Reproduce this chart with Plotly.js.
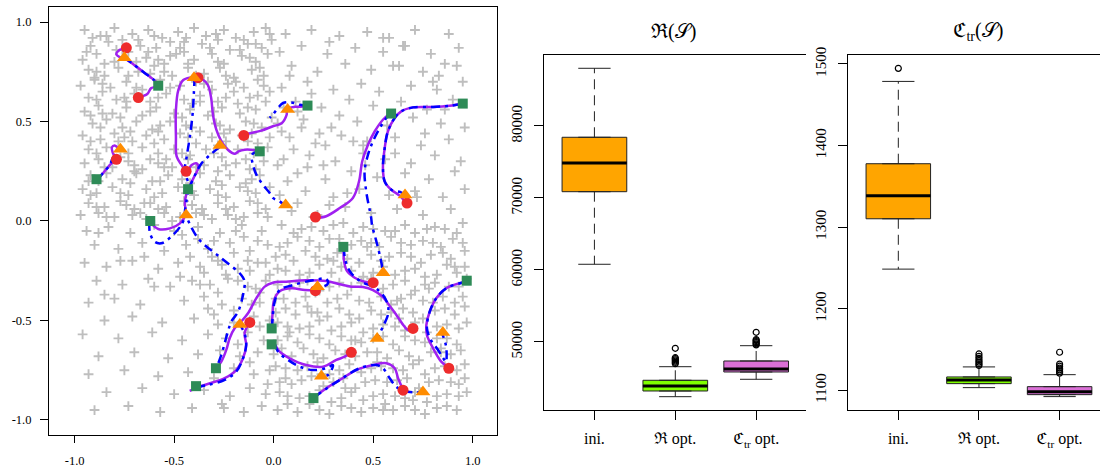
<!DOCTYPE html>
<html><head><meta charset="utf-8">
<script src="https://cdn.plot.ly/plotly-3.0.1.min.js"></script>
<style>html,body{margin:0;padding:0;background:#fff}#chart{width:1100px;height:470px}</style>
</head><body><div id="chart"></div>
<script>
// ---------- left panel: background sample points (coordinates in hundredths) ----------
const crossTL = [[-95,96],[-87,93],[-80,97],[-71,94],[-63,96],[-56,92],[-48,95],[-40,97],[-34,93],[-25,96],[-19,92],[-10,95],[-4,97],
[-92,88],[-83,90],[-76,86],[-68,91],[-59,87],[-52,90],[-45,85],[-36,89],[-28,91],[-22,86],[-13,89],[-6,87],[-1,91],
[-96,81],[-89,84],[-80,80],[-73,85],[-64,82],[-55,79],[-49,84],[-40,81],[-31,84],[-25,79],[-16,83],[-9,80],[-3,84],
[-93,76],[-85,73],[-78,77],[-68,75],[-60,78],[-51,73],[-43,77],[-35,74],[-27,77],[-20,72],[-11,76],[-5,73],
[-97,68],[-90,71],[-82,67],[-74,70],[-66,66],[-57,71],[-47,68],[-39,70],[-31,66],[-23,69],[-15,67],[-8,71],[-2,65],
[-93,62],[-86,65],[-79,61],[-70,64],[-62,60],[-54,64],[-45,61],[-37,63],[-28,60],[-20,65],[-12,62],[-4,60],
[-95,55],[-88,58],[-81,54],[-74,57],[-66,53],[-59,57],[-50,54],[-42,56],[-33,53],[-26,57],[-17,54],[-9,56],[-1,52],
[-91,49],[-84,51],[-76,47],[-69,50],[-61,46],[-52,50],[-44,48],[-37,45],[-29,49],[-22,46],[-14,50],[-6,47],
[-96,43],[-87,41],[-80,44],[-71,40],[-64,43],[-55,41],[-47,44],[-39,39],[-31,42],[-24,40],[-16,43],[-8,39],[-2,42],
[-93,36],[-84,37],[-73,34],[-66,37],[-58,34],[-50,36],[-42,33],[-34,36],[-26,32],[-18,36],[-10,34],[-3,37],
[-95,29],[-88,31],[-81,27],[-73,30],[-66,26],[-58,29],[-51,27],[-43,31],[-35,28],[-28,25],[-19,29],[-12,26],[-5,30],
[-92,23],[-84,24],[-76,21],[-69,24],[-61,20],[-53,23],[-46,21],[-37,24],[-29,20],[-22,23],[-14,19],[-7,23],
[-96,16],[-89,14],[-81,17],[-73,13],[-64,16],[-56,14],[-48,17],[-40,13],[-32,16],[-24,12],[-17,17],[-9,14],[-2,17],
[-93,9],[-85,7],[-77,10],[-70,6],[-62,9],[-54,7],[-45,10],[-36,6],[-28,9],[-20,7],[-12,10],[-4,6],
[-97,3],[-88,4],[-80,2],[-71,3],[-64,1],[-55,4],[-47,2],[-39,4],[-31,1],[-23,3],[-15,2],[-8,4],
[-84,93],[-67,88],[-52,83],[-89,75],[-75,62],[-58,45],[-33,70],[-18,59],[-70,28],[-41,15],[-86,54],[-62,74],[-45,90],[-27,48],[-54,31],[-11,44],[-78,40],[-37,60],[-93,20],[-65,9],
[-91,92],[-76,91],[-60,93],[-44,92],[-29,94],[-15,91],[-2,94],
[-94,85],[-79,86],[-63,85],[-47,87],[-32,87],[-17,86],[-9,89],
[-85,79],[-69,80],[-58,81],[-43,79],[-28,80],[-12,82],
[-90,72],[-73,73],[-55,75],[-39,73],[-24,73],[-7,77],
[-86,69],[-69,67],[-52,67],[-35,69],[-19,70],[-5,68],
[-89,61],[-74,60],[-58,62],[-41,59],[-24,62],[-8,63],
[-92,53],[-77,52],[-62,55],[-46,52],[-30,55],[-13,57],
[-87,47],[-72,45],[-57,48],[-41,47],[-25,44],[-10,49],
[-92,40],[-75,42],[-60,39],[-43,42],[-28,38],[-13,40],
[-89,34],[-77,32],[-62,31],[-46,34],[-30,34],[-14,31],
[-85,27],[-70,25],[-55,27],[-39,27],[-24,28],[-9,26],
[-88,20],[-72,19],[-57,20],[-42,19],[-26,18],[-11,21],
[-92,13],[-77,14],[-60,12],[-44,14],[-28,13],[-13,15],
[-89,7],[-74,8],[-58,6],[-41,8],[-24,6],[-8,9],
[-84,2],[-67,4],[-51,0],[-35,3],[-19,1],[-3,2]];
const crossTR = [[6,94],[19,96],[33,93],[47,95],[58,92],[71,96],[88,94],
[3,85],[14,88],[27,84],[41,87],[55,85],[66,88],[79,84],[93,87],
[9,78],[22,75],[36,79],[49,76],[63,78],[75,75],[86,79],
[4,67],[17,70],[30,66],[44,69],[53,65],[69,68],[82,66],[95,70],
[11,60],[24,57],[38,61],[50,58],[64,60],[77,56],[90,61],
[2,49],[15,51],[29,47],[42,50],[57,48],[70,52],[84,49],[96,47],
[8,42],[21,39],[34,43],[47,40],[61,42],[74,38],[88,41],
[5,31],[18,33],[31,30],[45,34],[56,31],[69,29],[81,33],[94,30],
[12,24],[26,21],[39,25],[52,22],[66,24],[78,21],[91,25],
[3,13],[16,15],[30,12],[43,16],[58,13],[71,15],[85,12],[96,16],
[9,5],[22,3],[36,7],[49,4],[62,6],[75,3],[89,6],
[80,70],[83,73],[40,40],[45,38],[60,78],[25,28],[72,12],[12,55],
[4,45],[10,36],[17,27],[23,44],[28,8],[7,20],[20,2],[14,47],[26,38],[2,28],
[5,57],[19,64],[8,73],[33,53],[46,28],[61,34],[76,44],[92,78],[55,92],[37,14],[65,88],[86,56],[28,90],[12,9]];
const crossBL = [[-94,-5],[-83,-3],[-72,-6],[-60,-2],[-50,-5],[-38,-3],[-27,-6],[-16,-2],[-6,-5],
[-90,-12],[-78,-14],[-66,-11],[-55,-15],[-44,-12],[-33,-14],[-22,-11],[-12,-15],[-3,-12],
[-95,-21],[-84,-23],[-71,-20],[-58,-24],[-48,-21],[-37,-23],[-28,-20],[-18,-24],[-8,-21],
[-89,-30],[-76,-32],[-63,-29],[-52,-33],[-41,-30],[-32,-32],[-23,-29],[-13,-33],[-4,-30],
[-93,-41],[-80,-39],[-67,-42],[-45,-40],[-35,-38],[-26,-42],[-16,-39],[-7,-41],
[-85,-50],[-71,-48],[-56,-51],[-40,-49],[-30,-47],[-20,-51],[-10,-48],[-2,-50],
[-96,-57],[-78,-59],[-61,-56],[-46,-60],[-33,-57],[-24,-59],[-13,-56],[-5,-60],
[-88,-68],[-70,-66],[-53,-69],[-38,-67],[-27,-65],[-17,-68],[-8,-66],
[-93,-77],[-75,-75],[-58,-78],[-43,-76],[-30,-79],[-20,-74],[-10,-77],[-2,-75],
[-84,-86],[-66,-84],[-50,-87],[-35,-85],[-22,-88],[-12,-84],[-4,-87],
[-90,-95],[-73,-93],[-57,-96],[-41,-94],[-26,-92],[-15,-96],[-6,-93],
[-38,-9],[-31,-18],[-24,-27],[-15,-8],[-9,-34],[-20,-16],[-35,-26],[-4,-21],[-28,-36],[-12,-25],
[-46,-7],[-30,-10],[-19,-5],[-8,-10],[-42,-18],[-26,-22],[-13,-20],[-2,-27],[-47,-28],[-37,-32],[-18,-30],[-7,-36],[-33,-44],[-20,-45],[-11,-42],[-88,-6],[-77,-20],[-65,-18],[-60,-33],[-85,-37],[-7,-53],[-18,-62],[-12,-71],[-28,-52],[-3,-82],[-25,-94]];
const crossBR = [[4,-2],[10,-6],[19,-3],[25,-5],[35,-1],[40,-6],[50,-4],[56,-5],[66,-2],[71,-6],[81,-3],[86,-4],[95,-1],
[7,-11],[12,-8],[23,-13],[28,-9],[39,-12],[44,-10],[53,-13],[59,-8],[69,-12],[75,-10],[84,-13],[90,-9],
[1,-18],[10,-20],[16,-15],[27,-19],[32,-16],[43,-21],[49,-17],[58,-18],[64,-16],[74,-21],[79,-17],[89,-19],[96,-15],
[6,-25],[13,-27],[23,-22],[29,-26],[39,-25],[45,-28],[55,-23],[61,-27],[71,-24],[76,-28],[87,-22],[92,-26],
[2,-32],[8,-33],[17,-30],[23,-35],[33,-31],[39,-33],[49,-29],[55,-34],[66,-30],[71,-35],[81,-31],[88,-33],[97,-29],
[5,-39],[11,-41],[21,-36],[27,-41],[37,-37],[43,-40],[54,-38],[59,-42],[69,-37],[75,-40],[85,-38],[91,-41],
[1,-46],[11,-47],[17,-43],[27,-48],[33,-44],[43,-49],[49,-45],[59,-46],[65,-44],[75,-49],[81,-45],[91,-47],[96,-43],
[7,-53],[13,-54],[23,-50],[29,-55],[39,-51],[45,-56],[55,-52],[61,-53],[71,-51],[77,-56],[87,-52],[93,-54],
[2,-60],[12,-61],[18,-57],[28,-62],[34,-58],[44,-61],[50,-59],[60,-62],[66,-58],[76,-61],[82,-59],[92,-62],
[0,-67],[9,-68],[15,-64],[25,-69],[31,-65],[41,-68],[47,-66],[57,-69],[63,-65],[73,-70],[79,-66],[89,-67],[94,-65],
[6,-74],[12,-75],[22,-71],[28,-77],[38,-72],[44,-76],[54,-73],[60,-74],[70,-72],[76,-77],[86,-73],[92,-75],
[3,-81],[9,-82],[19,-78],[25,-83],[35,-79],[41,-84],[51,-80],[57,-81],[67,-79],[73,-84],[83,-80],[89,-81],[96,-79],
[7,-88],[13,-89],[23,-85],[29,-91],[39,-86],[45,-90],[55,-87],[61,-88],[71,-86],[77,-91],[87,-87],[93,-88],
[2,-95],[12,-96],[18,-92],[28,-97],[34,-93],[44,-96],[50,-94],[60,-95],[66,-93],[76,-97],[82,-94],[92,-95],
[47,-13],[62,-40],[84,-64],[36,-84],[19,-46],[52,-71],[70,-90],[91,-23],[8,-56],[30,-20],[63,-49],[78,-34],[41,-60],[56,-92],[24,-77],
[14,-4],[30,-2],[45,-3],[61,-5],[77,-4],[92,-6],
[3,-13],[18,-10],[33,-9],[49,-11],[64,-11],[80,-11],[95,-11],
[6,-17],[21,-18],[37,-19],[54,-20],[69,-18],[85,-16],
[2,-24],[18,-26],[34,-23],[50,-26],[66,-25],[82,-27],[96,-23],
[13,-31],[28,-33],[44,-31],[60,-32],[76,-32],[93,-33],
[1,-39],[16,-38],[32,-39],[48,-41],[64,-39],[80,-41],[95,-38],
[6,-44],[22,-46],[38,-47],[54,-47],[70,-46],[86,-44],
[2,-51],[18,-53],[34,-53],[50,-54],[66,-55],[82,-53],[97,-51],
[7,-58],[23,-59],[39,-60],[55,-58],[71,-60],[87,-59],
[4,-64],[20,-67],[36,-67],[52,-66],[68,-68],[84,-66],
[1,-73],[17,-73],[33,-75],[49,-74],[65,-75],[81,-74],[96,-72],
[6,-79],[14,-80],[30,-81],[46,-81],[62,-80],[78,-81],[93,-82],
[3,-86],[18,-88],[34,-89],[50,-88],[66,-89],[82,-88],[97,-86],
[7,-92],[23,-95],[39,-94],[55,-95],[71,-95],[87,-93]];

// ---------- left panel: paths ----------
const purplePaths = [
 [[-0.744,0.869],[-0.779,0.856],[-0.791,0.839],[-0.774,0.824],[-0.752,0.819],[-0.698,0.782],[-0.648,0.744],[-0.602,0.709],[-0.576,0.680],[-0.615,0.668],[-0.635,0.638],[-0.677,0.622]],
 [[-0.38,0.715],[-0.355,0.710],[-0.33,0.682],[-0.314,0.618],[-0.305,0.534],[-0.288,0.459],[-0.263,0.401],[-0.230,0.358],[-0.196,0.338],[-0.176,0.350],[-0.146,0.358],[-0.113,0.358],[-0.069,0.353]],
 [[-0.397,0.724],[-0.454,0.709],[-0.479,0.658],[-0.491,0.558],[-0.491,0.424],[-0.487,0.323],[-0.462,0.281],[-0.437,0.248],[-0.412,0.281],[-0.387,0.290],[-0.379,0.266],[-0.395,0.231],[-0.412,0.197],[-0.426,0.164],[-0.437,0.141],[-0.446,0.089],[-0.442,0.035],[-0.471,-0.012],[-0.521,-0.037],[-0.580,-0.040],[-0.623,-0.004]],
 [[-0.146,0.434],[-0.113,0.442],[-0.062,0.454],[-0.004,0.476],[0.040,0.491],[0.065,0.533],[0.068,0.563],[0.107,0.574],[0.132,0.574],[0.172,0.579]],
 [[0.588,0.543],[0.549,0.509],[0.508,0.451],[0.474,0.383],[0.445,0.300],[0.429,0.199],[0.398,0.116],[0.332,0.065],[0.264,0.024],[0.209,0.015]],
 [[0.945,0.588],[0.884,0.579],[0.801,0.573],[0.700,0.571],[0.641,0.551],[0.608,0.518],[0.574,0.451],[0.558,0.367],[0.549,0.266],[0.558,0.199],[0.591,0.157],[0.635,0.126],[0.666,0.085]],
 [[0.352,-0.131],[0.353,-0.196],[0.368,-0.251],[0.407,-0.285],[0.457,-0.305],[0.503,-0.310]],
 [[-0.290,-0.744],[-0.263,-0.707],[-0.238,-0.648],[-0.221,-0.589],[-0.196,-0.539],[-0.166,-0.509],[-0.129,-0.464],[-0.087,-0.388],[-0.045,-0.330],[-0.004,-0.310],[0.063,-0.305],[0.164,-0.298],[0.264,-0.302],[0.332,-0.318],[0.390,-0.330],[0.449,-0.332],[0.499,-0.347],[0.549,-0.382],[0.583,-0.427],[0.620,-0.477],[0.655,-0.528],[0.675,-0.548],[0.704,-0.544]],
 [[-0.422,-0.854],[-0.347,-0.824],[-0.246,-0.790],[-0.188,-0.749],[-0.154,-0.690],[-0.138,-0.623],[-0.146,-0.564],[-0.124,-0.514]],
 [[-0.009,-0.538],[-0.006,-0.472],[0.002,-0.398],[0.032,-0.352],[0.092,-0.338],[0.157,-0.347],[0.214,-0.347]],
 [[0.005,-0.617],[0.030,-0.657],[0.080,-0.690],[0.164,-0.724],[0.248,-0.732],[0.315,-0.698],[0.357,-0.682],[0.392,-0.657]],
 [[0.203,-0.888],[0.264,-0.841],[0.332,-0.799],[0.415,-0.749],[0.499,-0.724],[0.566,-0.715],[0.608,-0.740],[0.625,-0.790],[0.653,-0.853]],
 [[0.971,-0.305],[0.935,-0.313],[0.867,-0.338],[0.817,-0.388],[0.784,-0.456],[0.767,-0.523],[0.770,-0.573],[0.801,-0.640],[0.842,-0.707],[0.879,-0.737]],
 [[-0.888,0.206],[-0.858,0.240],[-0.824,0.281],[-0.794,0.313],[-0.808,0.342],[-0.813,0.370],[-0.799,0.380],[-0.782,0.367],[-0.774,0.363]]
];
const bluePaths = [
 [[-0.752,0.823],[-0.698,0.782],[-0.648,0.744],[-0.602,0.709],[-0.576,0.680]],
 [[-0.397,0.724],[-0.401,0.642],[-0.407,0.541],[-0.421,0.424],[-0.437,0.323],[-0.446,0.256],[-0.424,0.172],[-0.427,0.161],[-0.437,0.106],[-0.446,0.039],[-0.442,0.030],[-0.380,-0.087],[-0.263,-0.187],[-0.163,-0.271],[-0.146,-0.305],[-0.154,-0.372],[-0.179,-0.456],[-0.213,-0.506],[-0.230,-0.556],[-0.263,-0.673],[-0.290,-0.744]],
 [[-0.427,0.161],[-0.395,0.231],[-0.362,0.290],[-0.320,0.332],[-0.273,0.370]],
 [[-0.623,-0.004],[-0.623,-0.054],[-0.598,-0.104],[-0.565,-0.112],[-0.515,-0.079],[-0.464,-0.020],[-0.442,0.030]],
 [[-0.069,0.353],[-0.109,0.333],[-0.104,0.283],[-0.087,0.233],[-0.054,0.182],[-0.020,0.141],[-0.004,0.116],[0.030,0.099],[0.057,0.077]],
 [[0.172,0.579],[0.131,0.584],[0.088,0.596],[0.047,0.593],[0.022,0.568],[-0.004,0.534],[-0.020,0.518]],
 [[0.588,0.543],[0.566,0.518],[0.533,0.467],[0.499,0.401],[0.474,0.333],[0.457,0.250],[0.465,0.149],[0.490,0.015],[0.494,-0.020],[0.514,-0.095],[0.533,-0.171],[0.546,-0.238],[0.546,-0.258]],
 [[0.945,0.588],[0.884,0.579],[0.801,0.573],[0.700,0.571],[0.641,0.551],[0.608,0.518],[0.574,0.451],[0.558,0.367],[0.549,0.266],[0.558,0.199],[0.591,0.157],[0.635,0.146],[0.661,0.132]],
 [[0.352,-0.131],[0.362,-0.205],[0.390,-0.263],[0.440,-0.305],[0.508,-0.335],[0.549,-0.372],[0.574,-0.422],[0.574,-0.472],[0.549,-0.531],[0.519,-0.593]],
 [[-0.390,-0.834],[-0.330,-0.824],[-0.246,-0.799],[-0.188,-0.757],[-0.154,-0.690],[-0.138,-0.623],[-0.146,-0.564],[-0.163,-0.531],[-0.166,-0.518]],
 [[-0.009,-0.538],[-0.004,-0.472],[0.005,-0.406],[0.030,-0.347],[0.097,-0.322],[0.197,-0.298],[0.263,-0.291],[0.273,-0.313],[0.243,-0.332],[0.216,-0.327]],
 [[0.005,-0.617],[0.022,-0.657],[0.072,-0.698],[0.131,-0.732],[0.197,-0.749],[0.264,-0.740],[0.298,-0.724],[0.273,-0.774],[0.236,-0.779]],
 [[0.203,-0.888],[0.231,-0.866],[0.332,-0.799],[0.432,-0.740],[0.516,-0.724],[0.549,-0.740],[0.583,-0.790],[0.616,-0.833],[0.653,-0.853],[0.700,-0.861],[0.745,-0.858]],
 [[0.971,-0.305],[0.935,-0.313],[0.867,-0.338],[0.817,-0.388],[0.784,-0.456],[0.770,-0.538],[0.790,-0.598],[0.826,-0.648],[0.851,-0.688],[0.866,-0.709],[0.869,-0.688],[0.866,-0.628],[0.846,-0.564]],
 [[-0.888,0.206],[-0.858,0.240],[-0.824,0.281],[-0.808,0.317],[-0.794,0.333],[-0.774,0.363]]
];

// ---------- left panel: markers ----------
const squareX = [-0.89,-0.58,-0.43,-0.62,-0.07,0.17,0.59,0.95,0.35,0.97,-0.01,-0.01,-0.29,-0.39,0.20];
const squareY = [0.21,0.68,0.16,0.00,0.35,0.58,0.54,0.59,-0.13,-0.30,-0.54,-0.62,-0.74,-0.83,-0.89];
const circleX = [-0.74,-0.68,-0.38,-0.79,-0.15,-0.44,0.67,0.21,-0.12,0.50,0.21,0.70,0.39,0.88,0.65];
const circleY = [0.87,0.62,0.72,0.31,0.43,0.25,0.09,0.02,-0.51,-0.31,-0.35,-0.54,-0.66,-0.74,-0.85];
const triX = [-0.75,-0.40,-0.77,-0.27,-0.44,0.07,0.66,0.06,-0.17,0.55,0.22,0.85,0.52,0.24,0.75];
const triY = [0.82,0.72,0.36,0.38,0.03,0.56,0.13,0.08,-0.52,-0.26,-0.33,-0.56,-0.59,-0.78,-0.86];

// ---------- box plots ----------
const boxPos = [1, 2, 3];
const boxLabels = ['ini.', 'ℜ opt.', 'ℭ<sub>tr</sub> opt.'];
const boxColors = ['#FFA500', '#7FFF00', '#DA70D6'];
// ℜ(S)
const rLower = [60792, 42403, 44819];
const rQ1 = [70875, 43194, 45833];
const rMedian = [74861, 43889, 46250];
const rQ3 = [78431, 44681, 47361];
const rUpper = [88014, 46569, 49486];
const rOutX = [2, 2, 2, 2, 2, 2, 2, 3, 3, 3, 3, 3, 3, 3];
const rOutY = [47000, 47180, 47350, 47520, 47680, 47820, 49125, 49600, 49750, 49900, 50050, 50200, 50330, 51347];
// ℭtr(S)
const cLower = [1248.5, 1103.2, 1092.2];
const cQ1 = [1310.2, 1108.1, 1094.6];
const cMedian = [1338.4, 1112.6, 1098.3];
const cQ3 = [1377.7, 1116.3, 1104.4];
const cUpper = [1478.6, 1128.6, 1119.1];
const cOutX = [1, 2, 2, 2, 2, 2, 2, 2, 3, 3, 3, 3, 3, 3, 3];
const cOutY = [1494.6, 1130.5, 1132.5, 1134.5, 1136.5, 1139, 1141.5, 1144.5, 1121, 1123, 1125, 1127, 1129.5, 1132, 1146.6];

// ---------- build ----------
const FONT = 'Liberation Serif, DejaVu Serif, Noto Serif, serif';
const traces = [];
const allCross = crossTL.concat(crossTR, crossBL, crossBR);
traces.push({type:'scatter', mode:'markers', xaxis:'x', yaxis:'y', hoverinfo:'skip',
  x: allCross.map(p => p[0] / 100), y: allCross.map(p => p[1] / 100),
  marker:{symbol:'cross-thin', size:7, color:'#BEBEBE', line:{color:'#BEBEBE', width:1.9}}});
purplePaths.forEach(p => traces.push({type:'scatter', mode:'lines', xaxis:'x', yaxis:'y', hoverinfo:'skip',
  x: p.map(q => q[0]), y: p.map(q => q[1]), line:{color:'#A020F0', width:2.5, shape:'spline', smoothing:1}}));
bluePaths.forEach(p => traces.push({type:'scatter', mode:'lines', xaxis:'x', yaxis:'y', hoverinfo:'skip',
  x: p.map(q => q[0]), y: p.map(q => q[1]), line:{color:'#0000FF', width:2.5, dash:'9px,5px,3px,5px', shape:'spline', smoothing:1}}));
traces.push({type:'scatter', mode:'markers', xaxis:'x', yaxis:'y', x: circleX, y: circleY, hoverinfo:'skip',
  marker:{symbol:'circle', size:11, color:'#EE2C2C'}});
traces.push({type:'scatter', mode:'markers', xaxis:'x', yaxis:'y', x: triX, y: triY, hoverinfo:'skip',
  marker:{symbol:'triangle-up', size:13, color:'#FF8C00'}});
traces.push({type:'scatter', mode:'markers', xaxis:'x', yaxis:'y', x: squareX, y: squareY, hoverinfo:'skip',
  marker:{symbol:'square', size:10, color:'#2E8B57'}});

function addBoxes(xa, ya, lower, q1, med, q3, upper, outX, outY) {
  boxPos.forEach((c, i) => {
    traces.push({type:'box', xaxis:xa, yaxis:ya, x:[c], q1:[q1[i]], median:[med[i]], q3:[q3[i]],
      lowerfence:[q1[i]], upperfence:[q3[i]], width:0.8, fillcolor:boxColors[i],
      line:{color:'#222222', width:1}, boxpoints:false, hoverinfo:'skip'});
  });
  const wx = [], wy = [], cx = [], cy = [], mx = [], my = [];
  boxPos.forEach((c, i) => {
    wx.push(c, c, null, c, c, null); wy.push(q3[i], upper[i], null, q1[i], lower[i], null);
    cx.push(c - 0.2, c + 0.2, null, c - 0.2, c + 0.2, null); cy.push(upper[i], upper[i], null, lower[i], lower[i], null);
    mx.push(c - 0.4, c + 0.4, null); my.push(med[i], med[i], null);
  });
  traces.push({type:'scatter', mode:'lines', xaxis:xa, yaxis:ya, x:wx, y:wy, hoverinfo:'skip',
    line:{color:'#222222', width:1, dash:'10px,6px'}});
  traces.push({type:'scatter', mode:'lines', xaxis:xa, yaxis:ya, x:cx, y:cy, hoverinfo:'skip',
    line:{color:'#222222', width:1}});
  traces.push({type:'scatter', mode:'lines', xaxis:xa, yaxis:ya, x:mx, y:my, hoverinfo:'skip',
    line:{color:'#000000', width:3}});
  traces.push({type:'scatter', mode:'markers', xaxis:xa, yaxis:ya, x:outX, y:outY, hoverinfo:'skip',
    marker:{symbol:'circle-open', size:6, color:'#000000', line:{width:1.2, color:'#000000'}}});
}
addBoxes('x2', 'y2', rLower, rQ1, rMedian, rQ3, rUpper, rOutX, rOutY);
addBoxes('x3', 'y3', cLower, cQ1, cMedian, cQ3, cUpper, cOutX, cOutY);

const axBase = {showgrid:false, zeroline:false, showline:true, linecolor:'#000', linewidth:1,
  ticks:'outside', tickcolor:'#000', tickwidth:1, tickfont:{family:FONT, size:13, color:'#000'}};
const layout = {
  width:1100, height:470, margin:{l:0, r:0, t:0, b:0}, showlegend:false,
  paper_bgcolor:'#fff', plot_bgcolor:'#fff',
  xaxis: Object.assign({}, axBase, {domain:[0.0445, 0.4518], range:[-1.129, 1.122], mirror:true, ticklen:7,
    tickvals:[-1, -0.5, 0, 0.5, 1], ticktext:['-1.0', '-0.5', '0.0', '0.5', '1.0'], ticklabelstandoff:7,
    tickfont:{family:FONT, size:12.5, color:'#000'}}),
  yaxis: Object.assign({}, axBase, {domain:[0.0745, 0.9851], range:[-1.0754, 1.0754], mirror:true, ticklen:8,
    tickvals:[-1, -0.5, 0, 0.5, 1], ticktext:['-1.0', '-0.5', '0.0', '0.5', '1.0'], ticklabelstandoff:6,
    tickfont:{family:FONT, size:12.5, color:'#000'}}),
  xaxis2: Object.assign({}, axBase, {anchor:'y2', domain:[0.4948, 0.7325], range:[0.38, 3.613], mirror:true, ticklen:9,
    tickvals:boxPos, ticktext:boxLabels, tickfont:{family:FONT, size:16, color:'#000'}, ticklabelstandoff:5}),
  yaxis2: Object.assign({}, axBase, {anchor:'x2', domain:[0.1277, 0.8830], range:[40556, 89861], ticklen:9,
    tickvals:[50000, 60000, 70000, 80000], ticktext:['50000', '60000', '70000', '80000'], tickangle:-90,
    tickfont:{family:FONT, size:15, color:'#000'}, ticklabelstandoff:6}),
  xaxis3: Object.assign({}, axBase, {anchor:'y3', domain:[0.7712, 1.0], range:[0.38, 3.501], mirror:true, ticklen:9,
    tickvals:boxPos, ticktext:boxLabels, tickfont:{family:FONT, size:16, color:'#000'}, ticklabelstandoff:5}),
  yaxis3: Object.assign({}, axBase, {anchor:'x3', domain:[0.1277, 0.8830], range:[1075.8, 1511.0], ticklen:9,
    tickvals:[1100, 1200, 1300, 1400, 1500], ticktext:['1100', '1200', '1300', '1400', '1500'], tickangle:-90,
    tickfont:{family:FONT, size:15, color:'#000'}, ticklabelstandoff:6}),
  annotations: [
    {xref:'paper', yref:'paper', x:0.6121, y:0.9326, text:'ℜ(𝒮)', showarrow:false,
      font:{family:FONT, size:20, color:'#000'}, xanchor:'center', yanchor:'middle'},
    {xref:'paper', yref:'paper', x:0.8888, y:0.9326, text:'ℭ<sub>tr</sub>(𝒮)', showarrow:false,
      font:{family:FONT, size:20, color:'#000'}, xanchor:'center', yanchor:'middle'}
  ]
};
Plotly.newPlot('chart', traces, layout, {staticPlot:true, displayModeBar:false});
</script></body></html>
